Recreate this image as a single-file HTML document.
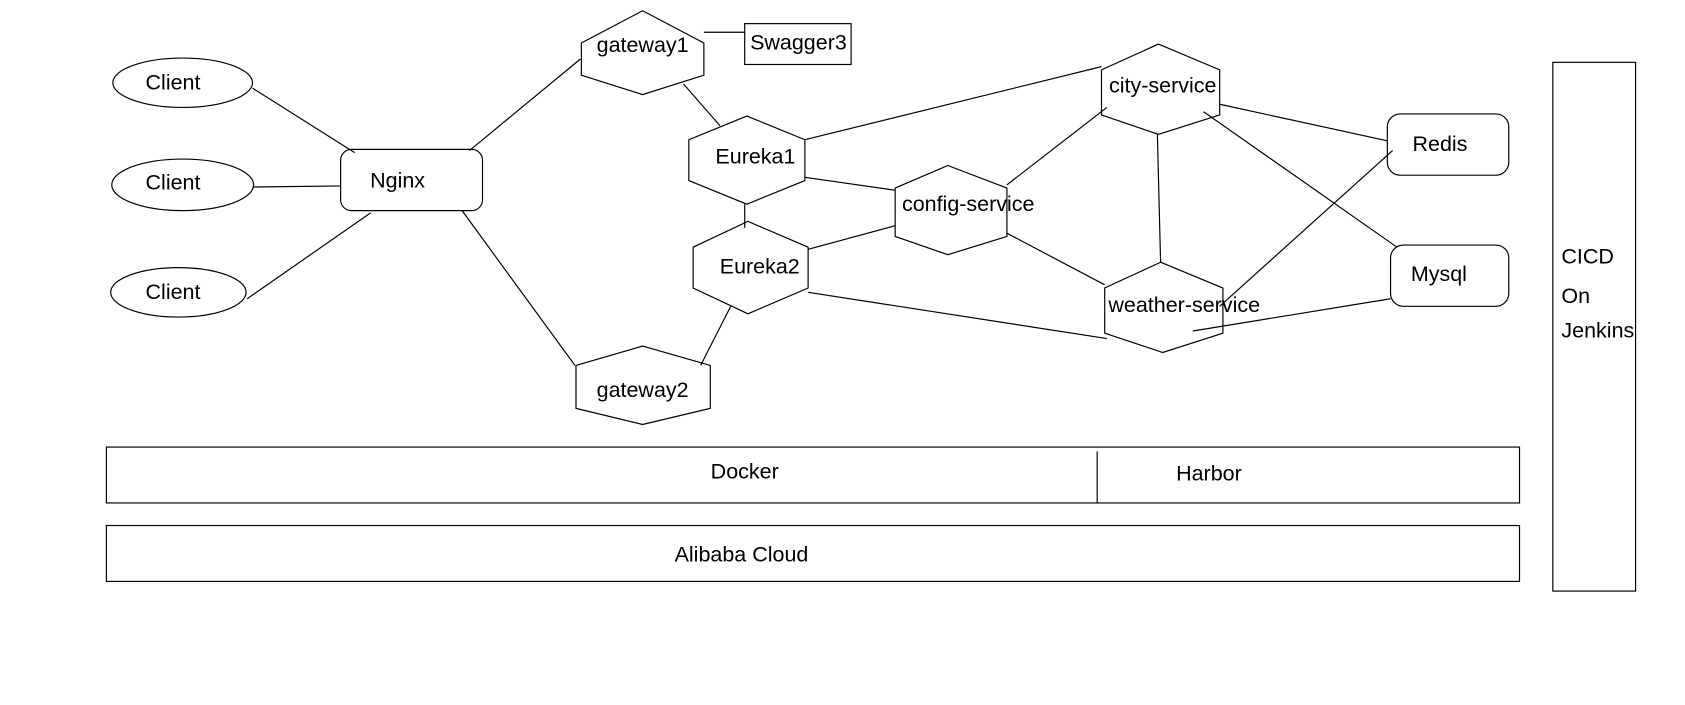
<!DOCTYPE html>
<html><head><style>html,body{margin:0;padding:0;background:#fff}svg{display:block}text{font-family:"Liberation Sans",sans-serif;font-size:20px;fill:#000}</style></head>
<body>
<svg width="1685" height="705" viewBox="0 0 1568 656" preserveAspectRatio="none" xmlns="http://www.w3.org/2000/svg">
<g fill="none" stroke="#000" stroke-width="1.1">
<ellipse cx="170" cy="77" rx="65" ry="23"/>
<ellipse cx="170" cy="172" rx="66" ry="24"/>
<ellipse cx="166" cy="272" rx="63" ry="23"/>
<rect x="317" y="139" width="132" height="57" rx="10"/>
<line x1="235" y1="82" x2="330" y2="142"/>
<line x1="235" y1="174" x2="317" y2="173"/>
<line x1="230" y1="278" x2="345" y2="198"/>
<line x1="437" y1="140" x2="540" y2="55"/>
<line x1="430" y1="196" x2="535" y2="340"/>
<polygon points="598,10 655,40 655,70 598,88 541,70 541,40"/>
<rect x="693" y="22" width="99" height="38"/>
<line x1="655" y1="30" x2="693" y2="30"/>
<line x1="636" y1="78" x2="670" y2="117"/>
<polygon points="695,108 749,130 749,168 695,190 641,168 641,130"/>
<polygon points="696,206 752,230 752,268 696,292 645,268 645,230"/>
<line x1="693" y1="190" x2="693" y2="212"/>
<polygon points="598,322 661,340 661,380 598,395 536,380 536,340"/>
<line x1="680" y1="285" x2="652" y2="340"/>
<polygon points="882,154 937,175 937,220 882,237 833,220 833,175"/>
<polygon points="1078,41 1135,65 1135,107 1078,125 1025,107 1025,65"/>
<polygon points="1080,244 1138,268 1138,310 1082,328 1028,310 1028,268"/>
<rect x="1291" y="106" width="113" height="57" rx="12"/>
<rect x="1294" y="228" width="110" height="57" rx="12"/>
<line x1="749" y1="130" x2="1025" y2="62"/>
<line x1="749" y1="165" x2="833" y2="177"/>
<line x1="752" y1="232" x2="833" y2="210"/>
<line x1="752" y1="272" x2="1030" y2="315"/>
<line x1="937" y1="172" x2="1030" y2="100"/>
<line x1="937" y1="217" x2="1028" y2="265"/>
<line x1="1077" y1="125" x2="1080" y2="244"/>
<line x1="1135" y1="97" x2="1291" y2="131"/>
<line x1="1120" y1="104" x2="1300" y2="230"/>
<line x1="1135" y1="285" x2="1296" y2="140"/>
<line x1="1110" y1="308" x2="1294" y2="278"/>
<rect x="99" y="416" width="1315" height="52"/>
<line x1="1021" y1="420" x2="1021" y2="468"/>
<rect x="99" y="489" width="1315" height="52"/>
<rect x="1445" y="58" width="77" height="492"/>
</g>
<g text-anchor="middle" dominant-baseline="middle">
<text x="161" y="78">Client</text>
<text x="161" y="171">Client</text>
<text x="161" y="273">Client</text>
<text x="370" y="169">Nginx</text>
<text x="598" y="43">gateway1</text>
<text x="743" y="41">Swagger3</text>
<text x="703" y="147">Eureka1</text>
<text x="707" y="249">Eureka2</text>
<text x="598" y="364">gateway2</text>
<text x="901" y="191">config-service</text>
<text x="1082" y="81">city-service</text>
<text x="1102" y="285">weather-service</text>
<text x="1340" y="135">Redis</text>
<text x="1339" y="256">Mysql</text>
<text x="693" y="440">Docker</text>
<text x="1125" y="442">Harbor</text>
<text x="690" y="517">Alibaba Cloud</text>
</g>
<text x="1453" y="245">CICD</text>
<text x="1453" y="282">On</text>
<text x="1453" y="314">Jenkins</text>
</svg>
</body></html>
